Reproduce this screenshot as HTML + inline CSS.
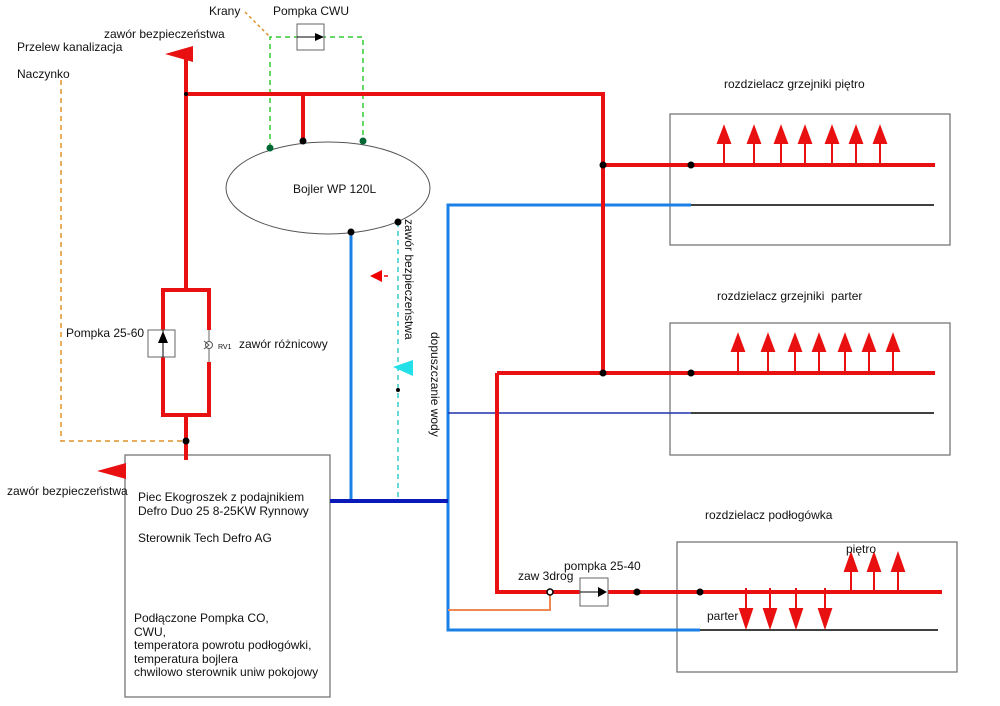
<!DOCTYPE html>
<html><head><meta charset="utf-8"><style>
html,body{margin:0;padding:0;background:#fff;}
svg{display:block;font-family:"Liberation Sans",Arial,sans-serif;}
text{font-size:12px;fill:#111;}
</style></head><body>
<svg width="1000" height="706" viewBox="0 0 1000 706" xmlns="http://www.w3.org/2000/svg">
<rect width="1000" height="706" fill="#fff"/>
<!-- boxes -->
<rect x="670" y="114" width="280" height="131" fill="none" stroke="#777" stroke-width="1.3"/>
<rect x="670" y="323" width="280" height="132" fill="none" stroke="#777" stroke-width="1.3"/>
<rect x="677" y="542" width="280" height="130" fill="none" stroke="#777" stroke-width="1.3"/>
<rect x="125" y="455" width="205" height="242" fill="none" stroke="#777" stroke-width="1.3"/>
<ellipse cx="328" cy="188" rx="102" ry="46" fill="none" stroke="#555" stroke-width="1"/>

<!-- orange dashed Naczynko -->
<polyline points="61,80 61,441 186,441" fill="none" stroke="#e0902a" stroke-width="1.5" stroke-dasharray="5,4"/>
<line x1="245" y1="12" x2="270" y2="37" stroke="#e0902a" stroke-width="1.5" stroke-dasharray="3,3"/>
<!-- green dashed -->
<polyline points="270,148 270,37 363,37 363,141" fill="none" stroke="#33cc33" stroke-width="1.5" stroke-dasharray="5,4"/>
<rect x="297" y="24" width="27" height="26" fill="#fff" stroke="#666" stroke-width="1"/>
<line x1="297" y1="37" x2="318" y2="37" stroke="#000" stroke-width="1"/>
<polygon points="324,37 315,33 315,41" fill="#000"/>

<!-- blue -->
<polyline points="691,205 448,205 448,630 700,630" fill="none" stroke="#1a80e6" stroke-width="3"/>
<line x1="351" y1="232" x2="351" y2="501" stroke="#1a80e6" stroke-width="3"/>
<line x1="330" y1="501" x2="448" y2="501" stroke="#0a1ab8" stroke-width="4"/>
<line x1="448" y1="413" x2="691" y2="413" stroke="#2030b0" stroke-width="1.5"/>
<line x1="691" y1="205" x2="934" y2="205" stroke="#000" stroke-width="1.5"/>
<line x1="691" y1="413" x2="934" y2="413" stroke="#000" stroke-width="1.5"/>
<line x1="700" y1="630" x2="938" y2="630" stroke="#000" stroke-width="1.5"/>
<!-- cyan dashed -->
<line x1="398" y1="222" x2="398" y2="501" stroke="#33cccc" stroke-width="1.5" stroke-dasharray="5,4"/>
<polygon points="393,367 413,360 413,376" fill="#22e0e8"/>
<circle cx="398" cy="390" r="2" fill="#000"/>
<polygon points="370,276 382,270 382,282" fill="#e00"/>
<line x1="384" y1="276" x2="388" y2="276" stroke="#e00" stroke-width="1.5"/>
<!-- orange 3way -->
<polyline points="550,592 550,610 448,610" fill="none" stroke="#ee8855" stroke-width="2"/>

<!-- red pipes -->
<g stroke="#e81010" stroke-width="4" fill="none" stroke-linecap="butt">
<line x1="186" y1="58" x2="186" y2="290"/>
<polyline points="186,94 603,94 603,373"/>
<line x1="303" y1="94" x2="303" y2="141"/>
<polyline points="209,330 209,290 163,290 163,415 209,415 209,362"/>
<line x1="186" y1="415" x2="186" y2="460"/>
<line x1="603" y1="165" x2="935" y2="165"/>
<line x1="497" y1="373" x2="935" y2="373"/>
<polyline points="497,373 497,592 942,592"/>
</g>
<!-- pump 25-60 -->
<rect x="148" y="330" width="27" height="27" fill="#fff" stroke="#666" stroke-width="1"/>
<line x1="163" y1="330" x2="163" y2="357" stroke="#000" stroke-width="1"/>
<polygon points="163,331 158,343 168,343" fill="#000"/>
<!-- RV1 -->
<line x1="209" y1="330" x2="209" y2="362" stroke="#666" stroke-width="1"/>
<circle cx="209" cy="345" r="3.5" fill="#fff" stroke="#555" stroke-width="1"/>
<polyline points="204,341 209,345 204,349" fill="none" stroke="#555" stroke-width="1"/>
<text x="218" y="349" style="font-size:7px">RV1</text>
<!-- pump 25-40 -->
<rect x="580" y="578" width="28" height="28" fill="#fff" stroke="#666" stroke-width="1"/>
<line x1="580" y1="592" x2="600" y2="592" stroke="#000" stroke-width="1"/>
<polygon points="607,592 598,587 598,597" fill="#000"/>
<circle cx="550" cy="592" r="3" fill="#fff" stroke="#000" stroke-width="1.5"/>

<!-- safety arrows -->
<polygon points="165,54 193,46 193,62" fill="#e81010"/>
<polygon points="97,471 126,463 126,479" fill="#e81010"/>

<!-- radiator arrows -->
<g fill="#e81010" stroke="#e81010" stroke-width="2">
<g id="up1">
<line x1="724" y1="165" x2="724" y2="140"/><polygon points="724,127 718,143 730,143"/>
<line x1="754" y1="165" x2="754" y2="140"/><polygon points="754,127 748,143 760,143"/>
<line x1="781" y1="165" x2="781" y2="140"/><polygon points="781,127 775,143 787,143"/>
<line x1="805" y1="165" x2="805" y2="140"/><polygon points="805,127 799,143 811,143"/>
<line x1="832" y1="165" x2="832" y2="140"/><polygon points="832,127 826,143 838,143"/>
<line x1="856" y1="165" x2="856" y2="140"/><polygon points="856,127 850,143 862,143"/>
<line x1="880" y1="165" x2="880" y2="140"/><polygon points="880,127 874,143 886,143"/>
</g>
<line x1="738" y1="373" x2="738" y2="348"/><polygon points="738,335 732,351 744,351"/>
<line x1="768" y1="373" x2="768" y2="348"/><polygon points="768,335 762,351 774,351"/>
<line x1="795" y1="373" x2="795" y2="348"/><polygon points="795,335 789,351 801,351"/>
<line x1="819" y1="373" x2="819" y2="348"/><polygon points="819,335 813,351 825,351"/>
<line x1="845" y1="373" x2="845" y2="348"/><polygon points="845,335 839,351 851,351"/>
<line x1="869" y1="373" x2="869" y2="348"/><polygon points="869,335 863,351 875,351"/>
<line x1="893" y1="373" x2="893" y2="348"/><polygon points="893,335 887,351 899,351"/>
<line x1="746" y1="588" x2="746" y2="612"/><polygon points="746,627 740,609 752,609"/>
<line x1="770" y1="588" x2="770" y2="612"/><polygon points="770,627 764,609 776,609"/>
<line x1="796" y1="588" x2="796" y2="612"/><polygon points="796,627 790,609 802,609"/>
<line x1="825" y1="588" x2="825" y2="612"/><polygon points="825,627 819,609 831,609"/>
<line x1="851" y1="592" x2="851" y2="568"/><polygon points="851,554 845,571 857,571"/>
<line x1="874" y1="592" x2="874" y2="568"/><polygon points="874,554 868,571 880,571"/>
<line x1="898" y1="592" x2="898" y2="568"/><polygon points="898,554 892,571 904,571"/>
</g>

<!-- dots -->
<g fill="#000">
<circle cx="186" cy="94" r="2"/>
<circle cx="186" cy="441" r="3.5"/>
<circle cx="603" cy="165" r="3.5"/><circle cx="691" cy="165" r="3.5"/>
<circle cx="603" cy="373" r="3.5"/><circle cx="691" cy="373" r="3.5"/>
<circle cx="637" cy="592" r="3.5"/><circle cx="700" cy="592" r="3.5"/>
<circle cx="351" cy="232" r="3.5"/><circle cx="398" cy="222" r="3.5"/>
<circle cx="303" cy="141" r="3.5"/>
</g>
<circle cx="270" cy="148" r="3.5" fill="#063"/>
<circle cx="363" cy="141" r="3.5" fill="#063"/>

<!-- labels -->
<text x="209" y="15">Krany</text>
<text x="273" y="15">Pompka CWU</text>
<text x="104" y="38">zawór bezpieczeństwa</text>
<text x="17" y="51">Przelew kanalizacja</text>
<text x="17" y="78">Naczynko</text>
<text x="293" y="193">Bojler WP 120L</text>
<text x="66" y="337">Pompka 25-60</text>
<text x="239" y="348">zawór różnicowy</text>
<text x="7" y="495">zawór bezpieczeństwa</text>
<text x="138" y="501">Piec Ekogroszek z podajnikiem</text>
<text x="138" y="515">Defro Duo 25 8-25KW Rynnowy</text>
<text x="138" y="542">Sterownik Tech Defro AG</text>
<text x="134" y="622">Podłączone Pompka CO,</text>
<text x="134" y="636">CWU,</text>
<text x="134" y="649">temperatora powrotu podłogówki,</text>
<text x="134" y="663">temperatura bojlera</text>
<text x="134" y="676">chwilowo sterownik uniw pokojowy</text>
<text x="724" y="88">rozdzielacz grzejniki piętro</text>
<text x="717" y="300">rozdzielacz grzejniki&#160;&#160;parter</text>
<text x="705" y="519">rozdzielacz podłogówka</text>
<text x="846" y="553">piętro</text>
<text x="707" y="620">parter</text>
<text x="518" y="580">zaw 3drog</text>
<text x="564" y="570">pompka 25-40</text>
<text transform="translate(405,219) rotate(90)">zawór bezpieczeństwa</text>
<text transform="translate(431,332) rotate(90)">dopuszczanie wody</text>
</svg>
</body></html>
